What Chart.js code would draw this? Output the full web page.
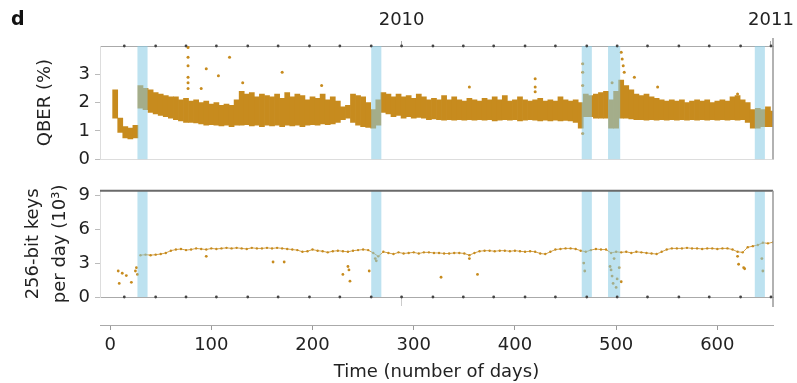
<!DOCTYPE html>
<html>
<head>
<meta charset="utf-8">
<script src="https://cdn.jsdelivr.net/npm/chart.js@4.4.0/dist/chart.umd.min.js"></script>
<style>
  html, body { margin: 0; padding: 0; background: #fff; }
  #wrap { position: relative; width: 797px; height: 383px; font-family: "DejaVu Sans", sans-serif; }
  #topBox { position: absolute; left: 0; top: 0; width: 797px; height: 175px; }
  #botBox { position: absolute; left: 0; top: 175px; width: 797px; height: 208px; }
  #panelTag { position: absolute; left: 11px; top: 7px; font: bold 19px "DejaVu Sans", sans-serif; color: #111; }
</style>
</head>
<body>
<div id="wrap">
  <div id="topBox"><canvas id="qberChart"></canvas></div>
  <div id="botBox"><canvas id="keyChart"></canvas></div>
  <div id="panelTag">d</div>
</div>
<script>
const monthDays = [14, 45, 75, 105, 136, 166, 197, 227, 258, 288, 319, 349, 379, 410, 440, 471, 501, 531, 562, 592, 623, 653];
const yearDays = [288, 653];
const yearLabels = ["2010", "2011"];
const dayTicks = [0, 100, 200, 300, 400, 500, 600];
const qberTicks = [0, 1, 2, 3];
const keyTicks = [0, 3, 6, 9];

// shaded intervals (days)
const bandStart = [27, 258, 466, 492, 637];
const bandEnd = [37, 268, 476, 504, 647];

// QBER spread per 5-day slot (%)
const qberDays = [5, 10, 15, 20, 25, 30, 35, 40, 45, 50, 55, 60, 65, 70, 75, 80, 85, 90, 95, 100,
  105, 110, 115, 120, 125, 130, 135, 140, 145, 150, 155, 160, 165, 170, 175, 180, 185, 190, 195, 200,
  205, 210, 215, 220, 225, 230, 235, 240, 245, 250, 255, 260, 265, 270, 275, 280, 285, 290, 295, 300,
  305, 310, 315, 320, 325, 330, 335, 340, 345, 350, 355, 360, 365, 370, 375, 380, 385, 390, 395, 400,
  405, 410, 415, 420, 425, 430, 435, 440, 445, 450, 455, 460, 465, 470, 475, 480, 485, 490, 495, 500,
  505, 510, 515, 520, 525, 530, 535, 540, 545, 550, 555, 560, 565, 570, 575, 580, 585, 590, 595, 600,
  605, 610, 615, 620, 625, 630, 635, 640, 645, 650, 655];
const qberLow = [1.45, 0.95, 0.75, 0.72, 0.75, 1.8, 1.75, 1.65, 1.6, 1.55, 1.5, 1.45, 1.4, 1.35, 1.3, 1.3, 1.28, 1.25, 1.2, 1.22,
  1.2, 1.18, 1.2, 1.15, 1.2, 1.2, 1.22, 1.18, 1.2, 1.15, 1.2, 1.18, 1.2, 1.15, 1.2, 1.18, 1.2, 1.15, 1.2, 1.22,
  1.2, 1.25, 1.22, 1.25, 1.3, 1.4, 1.45, 1.3, 1.2, 1.15, 1.12, 1.1, 1.2, 1.65, 1.6, 1.5, 1.55, 1.45, 1.5, 1.45,
  1.48, 1.45, 1.4, 1.42, 1.4, 1.38, 1.4, 1.38, 1.4, 1.38, 1.4, 1.38, 1.4, 1.38, 1.4, 1.35, 1.38, 1.4, 1.38, 1.4,
  1.35, 1.38, 1.4, 1.38, 1.35, 1.38, 1.35, 1.38, 1.35, 1.37, 1.35, 1.3, 1.1, 1.5, 1.5, 1.45, 1.45, 1.45, 1.1, 1.1,
  1.45, 1.45, 1.42, 1.4, 1.4, 1.38, 1.4, 1.38, 1.4, 1.38, 1.4, 1.38, 1.4, 1.38, 1.4, 1.38, 1.4, 1.38, 1.4, 1.38,
  1.4, 1.38, 1.4, 1.38, 1.4, 1.3, 1.1, 1.1, 1.15, 1.15, 1.15];
const qberHigh = [2.45, 1.45, 1.15, 1.1, 1.2, 2.6, 2.5, 2.45, 2.35, 2.3, 2.25, 2.2, 2.2, 2.1, 2.15, 2.05, 2.1, 2.0, 2.05, 1.95,
  2.0, 1.9, 1.95, 1.9, 2.1, 2.4, 2.3, 2.35, 2.2, 2.3, 2.25, 2.2, 2.3, 2.15, 2.35, 2.2, 2.3, 2.25, 2.1, 2.2,
  2.15, 2.3, 2.1, 2.2, 2.05, 1.85, 1.9, 2.3, 2.25, 2.2, 2.0, 1.75, 2.1, 2.35, 2.3, 2.2, 2.3, 2.2, 2.25, 2.15,
  2.3, 2.2, 2.1, 2.15, 2.1, 2.25, 2.1, 2.2, 2.1, 2.05, 2.15, 2.1, 2.05, 2.15, 2.1, 2.2, 2.1, 2.25, 2.05, 2.1,
  2.2, 2.1, 2.05, 2.1, 2.15, 2.05, 2.1, 2.05, 2.2, 2.1, 2.05, 2.1, 2.0, 2.3, 2.25, 2.3, 2.35, 2.4, 2.1, 2.4,
  2.8, 2.6, 2.45, 2.3, 2.25, 2.3, 2.2, 2.15, 2.1, 2.05, 2.1, 2.05, 2.1, 2.0, 2.05, 2.1, 2.05, 2.1, 2.0, 2.05,
  2.1, 2.05, 2.2, 2.25, 2.1, 2.0, 1.75, 1.8, 1.75, 1.85, 1.7];

// isolated QBER points
const qberOutDays = [77, 77, 77, 77, 77, 77, 90, 95, 107, 118, 131, 170, 209, 355, 420, 420, 420, 467, 467, 467, 467, 496, 505, 506, 507, 508, 518, 541, 620];
const qberOutVals = [3.95, 3.6, 3.3, 2.9, 2.7, 2.5, 2.5, 3.2, 2.95, 3.6, 2.7, 3.07, 2.6, 2.55, 2.84, 2.55, 2.38, 3.37, 3.07, 2.6, 0.91, 2.7, 3.78, 3.54, 3.3, 3.07, 2.9, 2.55, 2.3];

// keys per day (10^3)
const keyDays = [30, 35, 40, 45, 50, 55, 60, 65, 70, 75, 80, 85, 90, 95, 100,
  105, 110, 115, 120, 125, 130, 135, 140, 145, 150, 155, 160, 165, 170, 175, 180, 185, 190, 195, 200,
  205, 210, 215, 220, 225, 230, 235, 240, 245, 250, 255, 260, 265, 270, 275, 280, 285, 290, 295, 300,
  305, 310, 315, 320, 325, 330, 335, 340, 345, 350, 355, 360, 365, 370, 375, 380, 385, 390, 395, 400,
  405, 410, 415, 420, 425, 430, 435, 440, 445, 450, 455, 460, 465, 470, 475, 480, 485, 490, 495, 500,
  505, 510, 515, 520, 525, 530, 535, 540, 545, 550, 555, 560, 565, 570, 575, 580, 585, 590, 595, 600,
  605, 610, 615, 620, 625, 630, 635, 640, 645, 650, 655];
const keyVals = [3.7, 3.75, 3.7, 3.75, 3.8, 3.9, 4.1, 4.2, 4.25, 4.15, 4.2, 4.3, 4.25, 4.2, 4.3,
  4.25, 4.3, 4.35, 4.3, 4.35, 4.3, 4.25, 4.35, 4.3, 4.3, 4.35, 4.3, 4.35, 4.3, 4.25, 4.2, 4.15, 4.0, 4.05, 4.2,
  4.1, 4.05, 3.95, 4.05, 4.1, 4.05, 4.0, 4.1, 4.15, 4.2, 4.15, 3.9, 3.6, 4.0, 3.9, 3.8, 3.95, 3.85, 3.9, 3.95,
  3.85, 3.95, 3.95, 3.9, 3.9, 3.85, 3.85, 3.9, 3.9, 3.85, 3.7, 3.9, 4.05, 4.1, 4.1, 4.05, 4.1, 4.1, 4.05, 4.1,
  4.05, 4.0, 4.05, 4.0, 3.85, 3.8, 4.0, 4.2, 4.25, 4.3, 4.3, 4.25, 4.1, 4.0, 4.15, 4.25, 4.2, 4.2, 3.9, 4.0,
  3.95, 4.0, 3.9, 4.0, 3.95, 3.9, 3.85, 3.8, 4.0, 4.2, 4.3, 4.3, 4.3, 4.35, 4.3, 4.3, 4.25, 4.3, 4.3, 4.25,
  4.3, 4.3, 4.2, 4.0, 3.95, 4.4, 4.5, 4.6, 4.8, 4.75, 4.85];
const keyOutDays = [8, 9, 12, 16, 21, 25, 26, 27, 95, 161, 172, 230, 235, 236, 237, 256, 262, 263, 327, 355, 363,
  468, 469, 494, 495, 496, 497, 498, 500, 501, 503, 505, 620, 621, 626, 627, 644, 645];
const keyOutVals = [2.3, 1.2, 2.1, 1.9, 1.3, 2.3, 2.6, 2.0, 3.6, 3.1, 3.1, 2.0, 2.7, 2.4, 1.4, 2.3, 3.4, 3.2, 1.75, 3.4, 2.0,
  3.0, 2.3, 2.7, 2.4, 1.85, 1.2, 3.4, 0.85, 1.6, 2.6, 1.35, 3.6, 2.9, 2.6, 2.5, 3.4, 2.3];

const ORANGE = "rgb(199, 139, 30)";
const TEXT = "#222";
const FONT = { family: "DejaVu Sans", size: 18 };

const panelDecor = {
    id: "panelDecor",
    afterDatasetsDraw(chart, args, opts) {
        const { ctx, chartArea: a, scales: { x } } = chart;
        ctx.save();
        ctx.fillStyle = "rgba(135, 203, 228, 0.55)";
        bandStart.forEach((s, i) => {
            const x0 = x.getPixelForValue(s);
            const x1 = x.getPixelForValue(bandEnd[i]);
            ctx.fillRect(x0, a.top, x1 - x0, a.bottom - a.top);
        });
        if (opts.darkTop) {
            ctx.strokeStyle = "#6a6a6a";
            ctx.lineWidth = 2;
            ctx.beginPath();
            ctx.moveTo(a.left, a.top);
            ctx.lineTo(a.right, a.top);
            ctx.stroke();
        }
        ctx.strokeStyle = "#999";
        ctx.lineWidth = 1.5;
        ctx.beginPath();
        ctx.moveTo(a.right, a.top - opts.rightUp);
        ctx.lineTo(a.right, a.bottom + opts.rightDown);
        ctx.stroke();
        const dotY = opts.dotsTop ? a.top : a.bottom;
        ctx.fillStyle = "#444";
        monthDays.forEach((d) => {
            ctx.beginPath();
            ctx.arc(x.getPixelForValue(d), dotY, 1.4, 0, Math.PI * 2);
            ctx.fill();
        });
        ctx.restore();
    },
};

function noSidePadding(s) {
    s.paddingLeft = 0;
    s.paddingRight = 0;
}

function yAxis(ticks, max, title, titlePad, lineHeight) {
    return {
        type: "linear",
        position: "left",
        min: 0,
        max: max,
        afterBuildTicks: (s) => { s.ticks = ticks.map((v) => ({ value: v })); },
        afterFit: (s) => { s.width = 100; },
        grid: { drawOnChartArea: false, tickLength: 5, color: "#bbb" },
        border: { color: "#ddd" },
        ticks: { color: TEXT, font: FONT, padding: 5 },
        title: {
            display: true,
            text: title,
            color: TEXT,
            font: { family: "DejaVu Sans", size: 18, lineHeight: lineHeight },
            padding: { top: titlePad, bottom: 0 },
        },
    };
}

function buildQberChart() {
    const ctx = document.getElementById("qberChart").getContext("2d");
    new Chart(ctx, {
        type: "bar",
        data: {
            datasets: [
                {
                    type: "bar",
                    data: qberDays.map((d, i) => ({ x: d, y: [qberLow[i], qberHigh[i]] })),
                    backgroundColor: ORANGE,
                    borderWidth: 0,
                    barPercentage: 1,
                    categoryPercentage: 1,
                },
                {
                    type: "scatter",
                    data: qberOutDays.map((d, i) => ({ x: d, y: qberOutVals[i] })),
                    backgroundColor: ORANGE,
                    borderWidth: 0,
                    pointRadius: 1.5,
                },
            ],
        },
        options: {
            responsive: true,
            maintainAspectRatio: false,
            animation: false,
            layout: { padding: { top: 10, right: 24, bottom: 14, left: 0 } },
            plugins: {
                legend: { display: false },
                tooltip: { enabled: false },
                panelDecor: { rightUp: 8, rightDown: 0, dotsTop: true, darkTop: false },
            },
            scales: {
                x: {
                    type: "linear",
                    min: -10,
                    max: 655,
                    offset: false,
                    afterFit: (s) => { s.height = 0; noSidePadding(s); },
                    grid: { display: false, offset: false },
                    border: { color: "#ddd" },
                    ticks: { display: false },
                },
                xTop: {
                    type: "linear",
                    position: "top",
                    min: -10,
                    max: 655,
                    offset: false,
                    afterBuildTicks: (s) => { s.ticks = yearDays.map((v) => ({ value: v })); },
                    afterFit: (s) => { s.height = 36; noSidePadding(s); },
                    grid: { drawOnChartArea: false, offset: false, tickLength: 5, color: "#aaa" },
                    border: { color: "#aaa" },
                    ticks: {
                        color: TEXT,
                        font: FONT,
                        padding: 10,
                        maxRotation: 0,
                        autoSkip: false,
                        callback: (v, i) => yearLabels[i],
                    },
                },
                y: yAxis(qberTicks, 4, "QBER (%)", 35, 1.2),
            },
        },
        plugins: [panelDecor],
    });
}

function buildKeyChart() {
    const ctx = document.getElementById("keyChart").getContext("2d");
    new Chart(ctx, {
        type: "scatter",
        data: {
            datasets: [
                {
                    data: keyDays.map((d, i) => ({ x: d, y: keyVals[i] })),
                    showLine: true,
                    borderColor: "rgba(199, 139, 30, 0.8)",
                    borderWidth: 1,
                    backgroundColor: ORANGE,
                    pointRadius: 1.2,
                    pointBorderWidth: 0,
                },
                {
                    data: keyOutDays.map((d, i) => ({ x: d, y: keyOutVals[i] })),
                    backgroundColor: ORANGE,
                    pointRadius: 1.4,
                    pointBorderWidth: 0,
                },
            ],
        },
        options: {
            responsive: true,
            maintainAspectRatio: false,
            animation: false,
            layout: { padding: { top: 11, right: 24, bottom: 0, left: 0 } },
            plugins: {
                legend: { display: false },
                tooltip: { enabled: false },
                panelDecor: { rightUp: 0, rightDown: 10, dotsTop: false, darkTop: true },
            },
            scales: {
                x: {
                    type: "linear",
                    position: "bottom",
                    weight: 0,
                    min: -10,
                    max: 655,
                    afterBuildTicks: (s) => { s.ticks = yearDays.slice(0, 1).map((v) => ({ value: v })); },
                    afterFit: (s) => { s.height = 28; noSidePadding(s); },
                    grid: { drawOnChartArea: false, tickLength: 9, color: "#ccc" },
                    border: { color: "#aaa" },
                    ticks: { display: false },
                },
                x2: {
                    type: "linear",
                    position: "bottom",
                    weight: 1,
                    min: -10,
                    max: 655,
                    afterBuildTicks: (s) => { s.ticks = dayTicks.map((v) => ({ value: v })); },
                    afterFit: (s) => { s.height = 58; noSidePadding(s); },
                    grid: { drawOnChartArea: false, tickLength: 5, color: "#999" },
                    border: { color: "#aaa" },
                    ticks: { color: TEXT, font: FONT, padding: 5, maxRotation: 0 },
                    title: {
                        display: true,
                        text: "Time (number of days)",
                        color: TEXT,
                        font: FONT,
                        padding: { top: 0, bottom: 0 },
                    },
                },
                y: yAxis(keyTicks, 9.4, ["256-bit keys", "per day (10³)"], 20, 1.5),
            },
        },
        plugins: [panelDecor],
    });
}

document.addEventListener("DOMContentLoaded", () => {
    buildQberChart();
    buildKeyChart();
});
</script>
</body>
</html>
